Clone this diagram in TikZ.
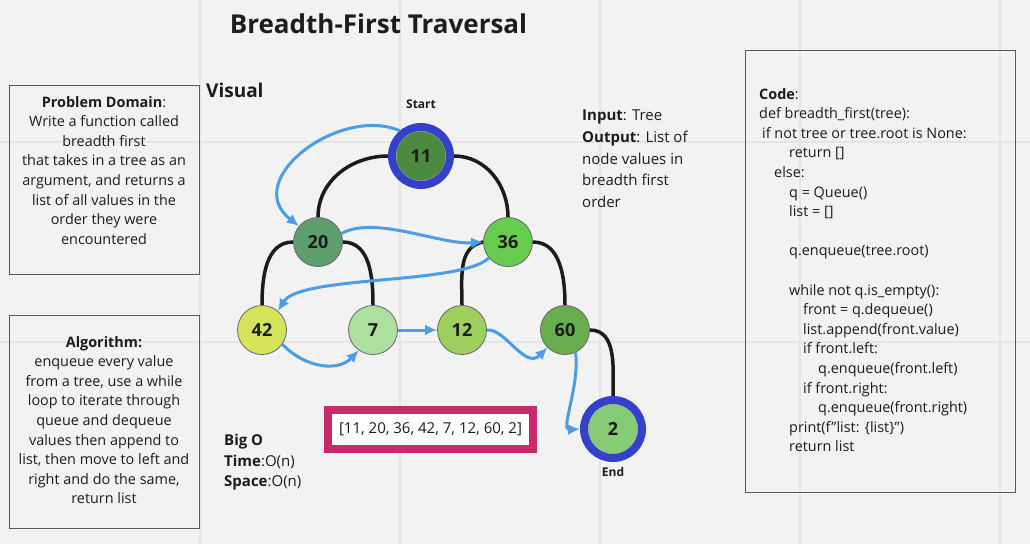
\documentclass[tikz,border=0pt]{standalone}
\usepackage{fontspec}
\setmainfont{Open Sans}
\usepackage{xcolor}
\usetikzlibrary{arrows.meta, positioning, backgrounds}

\definecolor{board}{HTML}{F2F2F2}
\definecolor{gridline}{HTML}{E4E4E4}
\definecolor{ink}{HTML}{1C1C1C}
\definecolor{ringblue}{HTML}{3441C8}
\definecolor{visit}{HTML}{4C9DE8}
\definecolor{listrim}{HTML}{C82A6A}
\definecolor{cEleven}{HTML}{4C8A3F}
\definecolor{cTwenty}{HTML}{5E9E6E}
\definecolor{cThirtysix}{HTML}{66CC4D}
\definecolor{cFortytwo}{HTML}{D4E35A}
\definecolor{cSeven}{HTML}{ADDF9F}
\definecolor{cTwelve}{HTML}{9ECF5E}
\definecolor{cSixty}{HTML}{69AD4E}
\definecolor{cTwo}{HTML}{86CB76}

\begin{document}
\begin{tikzpicture}[
    x=1pt, y=-1pt,
    font=\fontsize{14.4}{19.6}\selectfont, text=ink,
    panel/.style={draw=black!65, line width=1pt},
    note/.style={inner sep=0pt, align=center},
    tnode/.style={circle, draw=black!60, line width=0.8pt, minimum size=49pt, inner sep=0pt, font=\fontsize{18}{18}\selectfont\bfseries},
    endnode/.style={tnode, draw=white!70!black, minimum size=50pt},
    ring/.style={circle, draw=ringblue, line width=8pt, minimum size=58pt, inner sep=0pt, outer sep=4pt},
    edge/.style={ink, line width=3.5pt},
    arr/.style={-{Latex[length=12pt,width=11pt]}, visit, line width=3pt},
    tag/.style={inner sep=0pt, font=\fontsize{12}{12}\selectfont\bfseries}
]
\useasboundingbox (0,0) rectangle (1030,544);
\begin{pgfonlayer}{background}
  \fill[board] (0,0) rectangle (1030,544);
  \foreach \gx in {200,400,...,1000} \draw[gridline, line width=2pt] (\gx,0) -- (\gx,544);
  \foreach \gy in {142,342} \draw[gridline, line width=2pt] (0,\gy) -- (1030,\gy);
\end{pgfonlayer}

\node[anchor=base, font=\fontsize{26}{30}\selectfont\bfseries] (title) at (378.5,33) {Breadth-First Traversal};
\node[anchor=base west, inner sep=0pt, font=\fontsize{19}{22}\selectfont\bfseries] (visual) at (206,97) {Visual};

\node[panel, minimum width=190pt, minimum height=189pt] (pdbox) at (104,179.5) {};
\node[note, below=11.5pt of pdbox.north] (pdtext) {\textbf{Problem Domain}:\\Write a function called\\breadth first\\that takes in a tree as an\\argument, and returns a\\list of all values in the\\order they were\\encountered};

\node[panel, minimum width=190pt, minimum height=213pt] (algbox) at (104,421.5) {};
\node[note, below=21.5pt of algbox.north] (algtext) {\textbf{Algorithm:}\\enqueue every value\\from a tree, use a while\\loop to iterate through\\queue and dequeue\\values then append to\\list, then move to left and\\right and do the same,\\return list};

\node[tnode, endnode, fill=cEleven] (n11) at (421,156) {11};
\node[ring] (r11) at (n11) {};
\node[tnode, fill=cTwenty] (n20) at (318,242) {20};
\node[tnode, fill=cThirtysix] (n36) at (508,242) {36};
\node[tnode, fill=cFortytwo] (n42) at (262,330) {42};
\node[tnode, fill=cSeven] (n7) at (373,330) {7};
\node[tnode, fill=cTwelve] (n12) at (462,330) {12};
\node[tnode, fill=cSixty] (n60) at (565,330) {60};
\node[tnode, endnode, fill=cTwo] (n2) at (613,429) {2};
\node[ring] (r2) at (n2) {};
\node[tag, above=14pt of r11] (start) {Start};
\node[tag, below=5pt of r2] (finish) {End};

\begin{pgfonlayer}{background}
  \draw[edge] (r11.west) to[out=180, in=90] (n20.north);
  \draw[edge] (r11.east) to[out=0, in=90] (n36.north);
  \draw[edge] (n20.west) to[out=180, in=90] (n42.north);
  \draw[edge] (n20.east) to[out=0, in=90] (n7.north);
  \draw[edge] (n36.west) to[out=190, in=90] (n12.north);
  \draw[edge] (n36.east) to[out=0, in=90] (n60.north);
  \draw[edge] (n60.east) to[out=0, in=90] (r2.north);
\end{pgfonlayer}

\draw[arr] (r11.130) .. controls (340,105) and (240,180) .. (n20.140);
\draw[arr] (n20.20) .. controls (375,215) and (440,245) .. (n36.west);
\draw[arr] (n36.220) .. controls (460,285) and (300,275) .. (n42.50);
\draw[arr] (n42.-35) .. controls (305,368) and (338,372) .. (n7.235);
\draw[arr] (n7.east) -- (n12.west);
\draw[arr] (n12.east) .. controls (505,328) and (525,370) .. (n60.225);
\draw[arr] (n60.-65) .. controls (580,385) and (560,430) .. (r2.west);

\node[anchor=north west, inner sep=0pt, align=left, font=\fontsize{15}{21.8}\selectfont] (io) at (582,109.5) {\textbf{Input}: Tree\\\textbf{Output}: List of\\node values in\\breadth first\\order};

\node[draw=listrim, line width=8pt, fill=white, minimum width=205pt, minimum height=39pt, font=\fontsize{15}{15}\selectfont] (result) at (430.5,429.5) {[11, 20, 36, 42, 7, 12, 60, 2]};

\node[anchor=north west, inner sep=0pt, align=left, font=\fontsize{15}{20.5}\selectfont] (bigo) at (224,434) {\textbf{Big O}\\\textbf{Time}:O(n)\\\textbf{Space}:O(n)};

\node[panel, minimum width=270pt, minimum height=442pt] (codebox) at (880,271) {};
\node[anchor=north west, inner sep=0pt, align=left] (code) at (759,88) {\textbf{Code}:\\
def breadth\_first(tree):\\
\hspace*{3pt}if not tree or tree.root is None:\\
\hspace*{30pt}return []\\
\hspace*{15pt}else:\\
\hspace*{30pt}q = Queue()\\
\hspace*{30pt}list = []\\
\strut\\
\hspace*{30pt}q.enqueue(tree.root)\\
\strut\\
\hspace*{30pt}while not q.is\_empty():\\
\hspace*{44pt}front = q.dequeue()\\
\hspace*{44pt}list.append(front.value)\\
\hspace*{44pt}if front.left:\\
\hspace*{59pt}q.enqueue(front.left)\\
\hspace*{44pt}if front.right:\\
\hspace*{59pt}q.enqueue(front.right)\\
\hspace*{30pt}print(f\symbol{34}list: \{list\}\symbol{34})\\
\hspace*{30pt}return list};
\end{tikzpicture}
\end{document}
